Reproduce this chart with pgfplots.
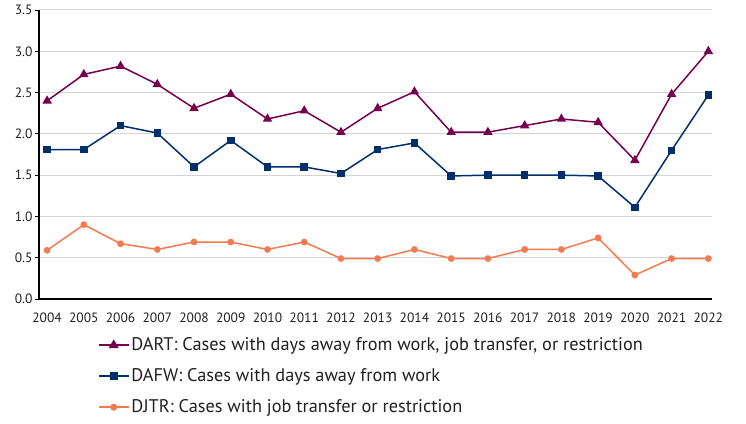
\documentclass[border=0pt]{standalone}
\usepackage{pgfplots}
\pgfplotsset{compat=1.18}
\usepackage{fontspec}
\setmainfont{PT Sans}
\definecolor{dart}{HTML}{76004F}
\definecolor{dafw}{HTML}{002F6C}
\definecolor{djtr}{HTML}{F47B50}
\definecolor{txt}{HTML}{231F20}
\definecolor{gridc}{HTML}{D4D4D4}
\begin{document}
\begin{tikzpicture}
\useasboundingbox (-39pt,-124pt) rectangle (707pt,299pt);
\begin{axis}[
  at={(0pt,0pt)}, anchor=south west,
  scale only axis,
  width=673pt, height=289pt,
  xmin=2003.78, xmax=2022.1,
  ymin=0, ymax=3.5,
  axis x line=bottom, axis y line=left,
  axis line style={-, line width=1.4pt, black},
  xtick={2004,...,2022},
  ytick={0,0.5,...,3.5},
  xmajorgrids=false,
  ymajorgrids=true,
  xtick style={draw=none},
  ytick style={black, line width=0.8pt},
  tick align=outside,
  major tick length=4pt,
  major grid style={color=gridc, line width=1pt},
  xticklabel style={font=\fontsize{13.5}{15}\selectfont, text=txt, yshift=-6pt},
  yticklabel style={font=\fontsize{13.5}{15}\selectfont, text=txt, xshift=1pt},
  /pgf/number format/assume math mode=true,
  xticklabel={\pgfmathprintnumber[1000 sep={},assume math mode=true]{\tick}},
  yticklabel={\pgfmathprintnumber[fixed,fixed zerofill,precision=1,assume math mode=true]{\tick}},
  legend style={at={(0.083,-0.12)}, anchor=north west, draw=none, fill=none,
    font=\fontsize{18.3}{20}\selectfont, text=txt, row sep=12.5pt,
    /tikz/every even column/.append style={column sep=3pt}},
  legend cell align=left,
  legend image code/.code={
    \draw[#1, line width=1.8pt, mark repeat=2, mark phase=2] plot coordinates {(0cm,0cm) (0.52cm,0cm) (1.04cm,0cm)};
  },
  clip=false,
]
\addplot[dart, line width=1.5pt, mark=triangle*, mark size=4pt] coordinates {
(2004,2.40) (2005,2.72) (2006,2.82) (2007,2.60) (2008,2.31) (2009,2.48) (2010,2.18) (2011,2.28) (2012,2.02) (2013,2.31) (2014,2.51) (2015,2.02) (2016,2.02) (2017,2.10) (2018,2.18) (2019,2.14) (2020,1.68) (2021,2.48) (2022,3.00)};
\addlegendentry{DART: Cases with days away from work, job transfer, or restriction}
\addplot[dafw, line width=1.5pt, mark=square*, mark size=3pt] coordinates {
(2004,1.81) (2005,1.81) (2006,2.10) (2007,2.01) (2008,1.60) (2009,1.92) (2010,1.60) (2011,1.60) (2012,1.52) (2013,1.81) (2014,1.89) (2015,1.49) (2016,1.50) (2017,1.50) (2018,1.50) (2019,1.49) (2020,1.11) (2021,1.80) (2022,2.47)};
\addlegendentry{DAFW: Cases with days away from work}
\addplot[djtr, line width=1.5pt, mark=*, mark size=2.6pt] coordinates {
(2004,0.59) (2005,0.90) (2006,0.67) (2007,0.60) (2008,0.69) (2009,0.69) (2010,0.60) (2011,0.69) (2012,0.49) (2013,0.49) (2014,0.60) (2015,0.49) (2016,0.49) (2017,0.60) (2018,0.60) (2019,0.74) (2020,0.29) (2021,0.49) (2022,0.49)};
\addlegendentry{DJTR: Cases with job transfer or restriction}
\end{axis}
\end{tikzpicture}
\end{document}
